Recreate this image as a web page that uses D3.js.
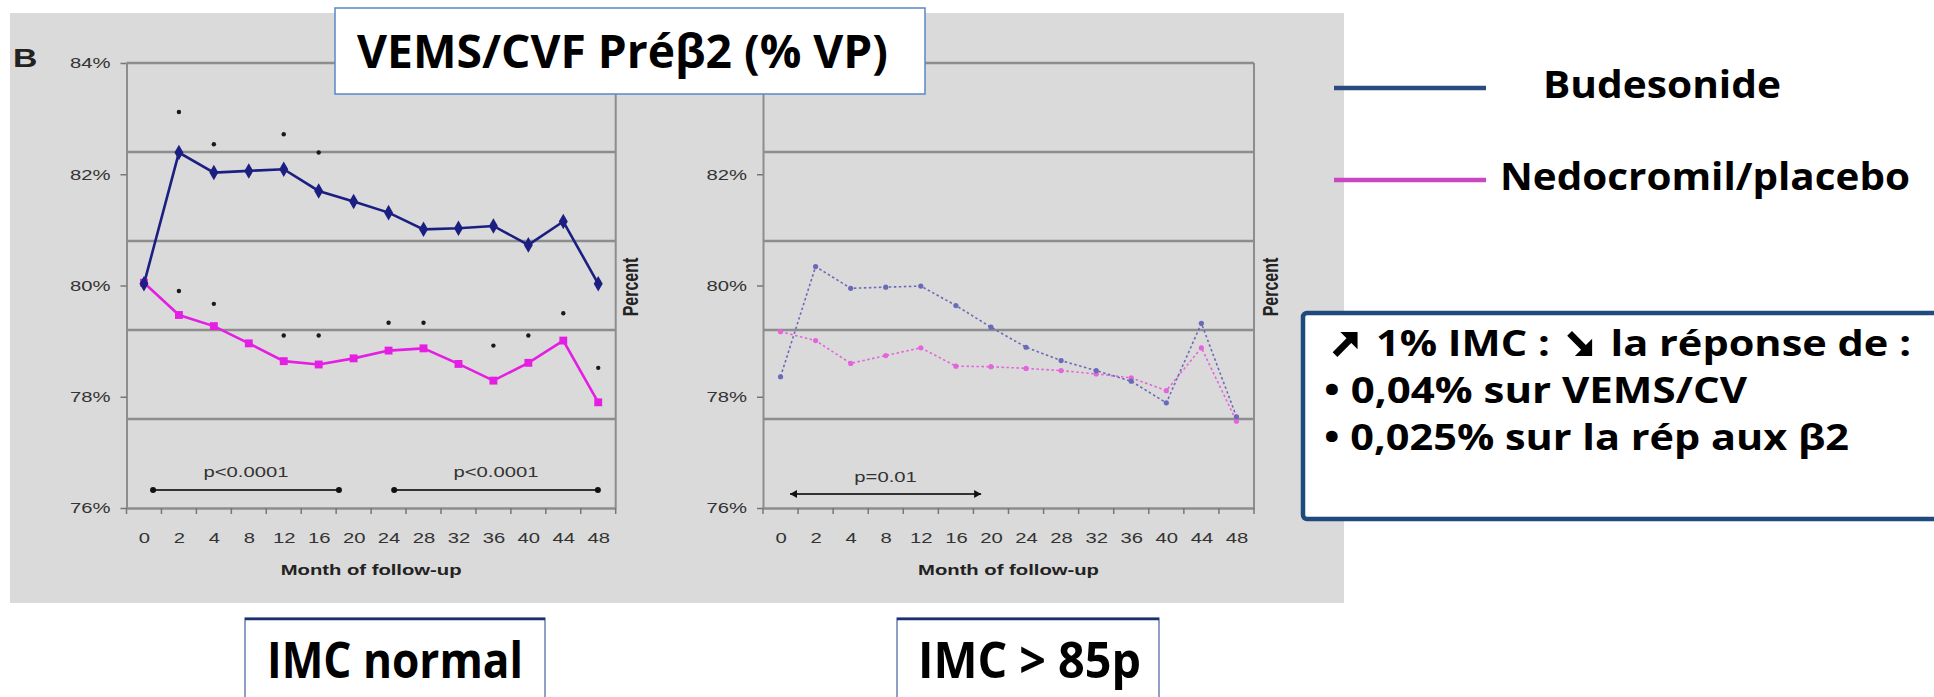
<!DOCTYPE html>
<html>
<head>
<meta charset="utf-8">
<script src="https://cdn.jsdelivr.net/npm/d3@7"></script>
<style>
  body { margin: 0; background: #fff; }
  svg { display: block; }
</style>
</head>
<body>
<svg id="chart" width="1934" height="697"></svg>
<script>
// ---- data ----
const months = ["0", "2", "4", "8", "12", "16", "20", "24", "28", "32", "36", "40", "44", "48"];
const yTickValues = [76, 78, 80, 82, 84];
const gridValues = [77.6, 79.2, 80.8, 82.4, 84];

// IMC normal
const budNormal = [80.03, 82.39, 82.03, 82.06, 82.09, 81.70, 81.51, 81.31, 81.01, 81.03, 81.07, 80.73, 81.15, 80.03];
const nedNormal = [80.05, 79.47, 79.27, 78.96, 78.64, 78.58, 78.69, 78.83, 78.87, 78.59, 78.29, 78.61, 79.01, 77.90];
const budNormalDots = [["2", 83.12], ["4", 82.54], ["12", 82.72], ["16", 82.39]];
const nedNormalDots = [["2", 79.90], ["4", 79.67], ["12", 79.10], ["16", 79.10], ["24", 79.33], ["28", 79.33],
                       ["36", 78.92], ["40", 79.10], ["44", 79.50], ["48", 78.52]];
const pNormal = [{ from: 0.26, to: 5.58, label: "p<0.0001" }, { from: 7.16, to: 12.99, label: "p<0.0001" }];

// IMC > 85p
const budObese = [78.36, 80.34, 79.95, 79.97, 79.99, 79.64, 79.25, 78.89, 78.65, 78.47, 78.28, 77.89, 79.32, 77.64];
const nedObese = [79.17, 79.01, 78.60, 78.74, 78.88, 78.55, 78.54, 78.51, 78.47, 78.41, 78.34, 78.11, 78.88, 77.56];
const pObese = [{ from: 0.27, to: 5.72, label: "p=0.01" }];

const legendItems = ["Budesonide", "Nedocromil/placebo"];
// "up" / "down" mark where the bold Wingdings-style arrows sit
const noteHead = [["up"], [" 1% IMC : "], ["down"], [" la réponse de :"]];
const noteLines = ["• 0,04% sur VEMS/CV", "• 0,025% sur la rép  aux β2"];

// ---- layout ----
const svg = d3.select("#chart");
const axisFont = "'Liberation Sans', Arial, sans-serif";
const boxFont = "'Open Sans', 'Noto Sans', sans-serif";
const SX = 1.35; // the scanned figure is stretched horizontally
const gridColor = "#8d8d8d";

const y = d3.scaleLinear().domain([76, 84]).range([508, 63]);

svg.append("rect").attr("x", 10).attr("y", 13).attr("width", 1334).attr("height", 590).attr("fill", "#dadada");

const panels = [
  { left: 126.5, right: 615.7, bud: budNormal, ned: nedNormal, solid: true, topLabel: true,
    budDots: budNormalDots, nedDots: nedNormalDots, brackets: pNormal, bracketY: 490, labelY: 477, percentX: 638 },
  { left: 763, right: 1254, bud: budObese, ned: nedObese, solid: false, topLabel: false,
    budDots: [], nedDots: [], brackets: pObese, bracketY: 494, labelY: 482, percentX: 1278 }
];

function stretched(g, x, yy, txt) {
  return g.append("text").attr("transform", `translate(${x},${yy}) scale(${SX},1)`).text(txt);
}

panels.forEach(function(p) {
  const g = svg.append("g");
  const x = d3.scalePoint().domain(months).range([p.left, p.right]).padding(0.5);
  const xi = d3.scaleLinear().domain([-0.5, months.length - 0.5]).range([p.left, p.right]);

  // horizontal grid
  g.selectAll(".grid").data(gridValues).join("line")
    .attr("x1", p.left).attr("x2", p.right)
    .attr("y1", d => y(d)).attr("y2", d => y(d))
    .attr("stroke", gridColor).attr("stroke-width", 2.5);
  g.append("line").attr("x1", p.right).attr("x2", p.right).attr("y1", y(84)).attr("y2", y(76))
    .attr("stroke", gridColor).attr("stroke-width", 2);

  // y axis (the top label of the right panel sits under the title box)
  const ticks = p.topLabel ? yTickValues : yTickValues.filter(v => v < 84);
  const ya = g.append("g").attr("transform", `translate(${p.left},0)`)
    .call(d3.axisLeft(y).tickValues(ticks).tickFormat(d => d + "%").tickSize(6).tickSizeOuter(0));
  ya.attr("font-family", axisFont).attr("font-size", 15);
  ya.select(".domain").attr("stroke", gridColor).attr("stroke-width", 2);
  ya.selectAll(".tick line").attr("stroke", "#777").attr("stroke-width", 1.5);
  ya.selectAll(".tick text").attr("x", null).attr("fill", "#333")
    .attr("transform", `translate(-16,0) scale(${SX},1)`);

  // x axis
  const xa = g.append("g").attr("transform", `translate(0,${y(76)})`)
    .call(d3.axisBottom(x).tickSize(0).tickPadding(24));
  xa.attr("font-family", axisFont).attr("font-size", 15);
  xa.select(".domain").attr("stroke", gridColor).attr("stroke-width", 2.5);
  xa.selectAll(".tick text").attr("fill", "#333").attr("transform", `scale(${SX},1)`);
  g.selectAll(".xtick").data(d3.range(months.length + 1)).join("line")
    .attr("x1", i => xi(i - 0.5)).attr("x2", i => xi(i - 0.5))
    .attr("y1", y(76)).attr("y2", y(76) + 6)
    .attr("stroke", "#777").attr("stroke-width", 1.5);

  const cx = (p.left + p.right) / 2;
  stretched(g, cx, 575, "Month of follow-up")
    .attr("text-anchor", "middle").attr("font-family", axisFont)
    .attr("font-size", 15).attr("font-weight", "bold").attr("fill", "#222");

  g.append("text")
    .attr("transform", `translate(${p.percentX},287) scale(${SX},1) rotate(-90)`)
    .attr("text-anchor", "middle").attr("font-family", axisFont)
    .attr("font-size", 16).attr("font-weight", "bold").attr("fill", "#222")
    .text("Percent");

  // p-value brackets
  p.brackets.forEach(function(b) {
    g.append("line").attr("x1", xi(b.from)).attr("x2", xi(b.to))
      .attr("y1", p.bracketY).attr("y2", p.bracketY)
      .attr("stroke", "#333").attr("stroke-width", 2.2);
    if (p.solid) {
      g.selectAll(null).data([b.from, b.to]).join("circle")
        .attr("cx", d => xi(d)).attr("cy", p.bracketY).attr("r", 3).attr("fill", "#111");
    } else {
      g.append("path").attr("fill", "#111")
        .attr("d", `M${xi(b.from)},${p.bracketY} l7,-4 l0,8 z M${xi(b.to)},${p.bracketY} l-7,-4 l0,8 z`);
    }
    stretched(g, xi((b.from + b.to) / 2), p.labelY, b.label)
      .attr("text-anchor", "middle").attr("font-family", axisFont)
      .attr("font-size", 15).attr("fill", "#333");
  });

  // series
  const line = d3.line().x((d, i) => x(months[i])).y(d => y(d));
  const budColor = p.solid ? "#1c1f82" : "#6a6ab8";
  const nedColor = p.solid ? "#e41ee2" : "#e464dc";

  [[p.ned, nedColor, d3.symbolSquare, 62], [p.bud, budColor, d3.symbolDiamond, 70]].forEach(function(s) {
    g.append("path").datum(s[0])
      .attr("d", line).attr("fill", "none").attr("stroke", s[1])
      .attr("stroke-width", p.solid ? 2.6 : 1.6)
      .attr("stroke-dasharray", p.solid ? null : "2.5,2.5");
    if (p.solid) {
      g.selectAll(null).data(s[0]).join("path")
        .attr("transform", (d, i) => `translate(${x(months[i])},${y(d)})`)
        .attr("d", d3.symbol(s[2], s[3])).attr("fill", s[1]);
    } else {
      g.selectAll(null).data(s[0]).join("circle")
        .attr("cx", (d, i) => x(months[i])).attr("cy", d => y(d))
        .attr("r", 2.6).attr("fill", s[1]);
    }
  });

  g.selectAll(null).data(p.budDots.concat(p.nedDots)).join("circle")
    .attr("cx", d => x(d[0])).attr("cy", d => y(d[1]))
    .attr("r", 2.2).attr("fill", "#1a1a1a");
});

stretched(svg, 13, 67, "B").attr("font-family", axisFont).attr("font-size", 25)
  .attr("font-weight", "bold").attr("fill", "#222");

// ---- boxes and legend ----
function boxText(x, yy, txt, size, len) {
  return svg.append("text").attr("x", x).attr("y", yy)
    .attr("font-family", boxFont).attr("font-weight", "bold").attr("font-size", size)
    .attr("fill", "#000").attr("textLength", len).attr("lengthAdjust", "spacingAndGlyphs")
    .text(txt);
}

svg.append("rect").attr("x", 335).attr("y", 8).attr("width", 590).attr("height", 86)
  .attr("fill", "#fff").attr("stroke", "#5b86c9").attr("stroke-width", 1.5);
boxText(357, 68, "VEMS/CVF Préβ2 (% VP)", 46, 531);

const legendColors = ["#2b4b80", "#cb46c1"];
const legendY = [88, 180];
const legendTextX = [1543, 1500];
const legendLen = [238, 410];
legendItems.forEach(function(name, i) {
  svg.append("line").attr("x1", 1334).attr("x2", 1486).attr("y1", legendY[i]).attr("y2", legendY[i])
    .attr("stroke", legendColors[i]).attr("stroke-width", 4.5);
  boxText(legendTextX[i], legendY[i] + 10, name, 37, legendLen[i]);
});

svg.append("rect").attr("x", 1303).attr("y", 313).attr("width", 700).attr("height", 206).attr("rx", 4)
  .attr("fill", "#fff").attr("stroke", "#1f4a7e").attr("stroke-width", 4.5);

// first note line: arrows are drawn as shapes in place of a blank placeholder glyph
const head = boxText(1326, 356, "", 35, 585);
head.selectAll("tspan").data(noteHead).join("tspan")
  .attr("fill", d => d[0] === "up" || d[0] === "down" ? "none" : null)
  .text(d => d[0] === "up" || d[0] === "down" ? "M" : d[0]);
let charIndex = 0;
noteHead.forEach(function(d) {
  const txt = d[0] === "up" || d[0] === "down" ? "M" : d[0];
  if (txt === "M") {
    const ext = head.node().getExtentOfChar(charIndex);
    const s = 24, x0 = ext.x + (ext.width - s) / 2, y0 = 332;
    const up = d[0] === "up";
    const tri = up ? [[0.28, 0], [1, 0], [1, 0.72]] : [[0.28, 1], [1, 1], [1, 0.28]];
    const shaft = up ? [[0.72, 0.28], [0.06, 0.94]] : [[0.72, 0.72], [0.06, 0.06]];
    svg.append("path").attr("fill", "#000")
      .attr("d", "M" + tri.map(q => [x0 + q[0] * s, y0 + q[1] * s].join(",")).join("L") + "Z");
    svg.append("line")
      .attr("x1", x0 + shaft[0][0] * s).attr("y1", y0 + shaft[0][1] * s)
      .attr("x2", x0 + shaft[1][0] * s).attr("y2", y0 + shaft[1][1] * s)
      .attr("stroke", "#000").attr("stroke-width", s * 0.28);
  }
  charIndex += txt.length;
});

const noteY = [403, 450];
const noteLen = [423, 525];
noteLines.forEach(function(t, i) { boxText(1324, noteY[i], t, 35, noteLen[i]); });

const bottomBoxes = [{ x: 245, w: 300, text: "IMC normal", tx: 267, len: 256 },
                     { x: 897, w: 262, text: "IMC > 85p", tx: 918, len: 223 }];
bottomBoxes.forEach(function(b) {
  svg.append("rect").attr("x", b.x).attr("y", 618).attr("width", b.w).attr("height", 100)
    .attr("fill", "#fff").attr("stroke", "#22408c").attr("stroke-width", 1);
  svg.append("line").attr("x1", b.x).attr("x2", b.x + b.w).attr("y1", 619).attr("y2", 619)
    .attr("stroke", "#1c2f6e").attr("stroke-width", 2.5);
  boxText(b.tx, 678, b.text, 50, b.len);
});
</script>
</body>
</html>
